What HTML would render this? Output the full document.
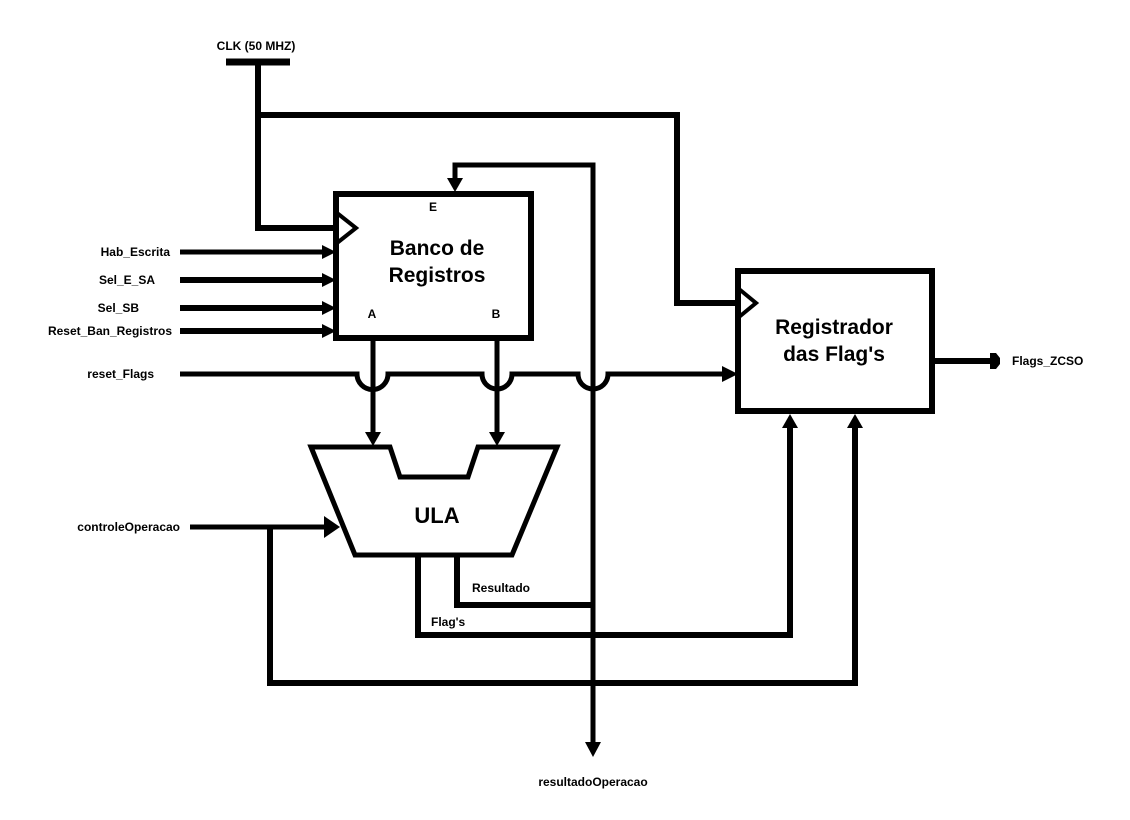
<!DOCTYPE html>
<html><head><meta charset="utf-8"><style>
html,body{margin:0;padding:0;background:#fff;}
svg{display:block;}
text{font-family:"Liberation Sans",Arial,sans-serif;font-weight:bold;fill:#000;}
</style></head><body>
<svg width="1130" height="820" viewBox="0 0 1130 820" xmlns="http://www.w3.org/2000/svg">
<g fill="none" stroke="#000" stroke-width="6" stroke-linejoin="miter">
<line x1="226" y1="62" x2="290" y2="62" stroke-width="7"/>
<polyline points="258,62 258,228 333,228"/>
<polyline points="258,115 677,115 677,303 735,303"/>
<rect x="336" y="194" width="195" height="144"/>
<polyline points="337,213 356,228 337,243" stroke-width="4"/>
<rect x="738" y="271" width="194" height="140"/>
<polyline points="739,289 756,303 739,317" stroke-width="4"/>
<line x1="180" y1="252" x2="322" y2="252" stroke-width="5"/>
<line x1="180" y1="280" x2="322" y2="280"/>
<line x1="180" y1="308" x2="322" y2="308"/>
<line x1="180" y1="331" x2="322" y2="331"/>
<path d="M180,374 H357 A15,15 0 0 0 388,374 H482 A15,15 0 0 0 512,374 H578 A15,15 0 0 0 608,374 H722" stroke-width="5"/>
<line x1="373" y1="338" x2="373" y2="434" stroke-width="5"/>
<line x1="497" y1="338" x2="497" y2="434" stroke-width="5"/>
<polyline points="455,180 455,165 593,165 593,742" stroke-width="5"/>
<polygon points="311,447 390,447 400,477 468,477 478,447 557,447 512,555 355,555" stroke-width="5"/>
<line x1="190" y1="527" x2="326" y2="527" stroke-width="5"/>
<polyline points="270,527 270,683 855,683 855,428"/>
<polyline points="418,555 418,635 790,635 790,428"/>
<polyline points="457,555 457,605 593,605"/>
<line x1="932" y1="361" x2="992" y2="361"/>
</g>
<g fill="#000">
<polygon points="322,245 336,252 322,259"/>
<polygon points="322,273 336,280 322,287"/>
<polygon points="322,301 336,308 322,315"/>
<polygon points="322,324 336,331 322,338"/>
<polygon points="722,366 738,374 722,382"/>
<polygon points="365,432 381,432 373,446"/>
<polygon points="489,432 505,432 497,446"/>
<polygon points="447,178 463,178 455,192"/>
<polygon points="324,516 340,527 324,538"/>
<polygon points="585,742 601,742 593,757"/>
<polygon points="782,428 798,428 790,414"/>
<polygon points="847,428 863,428 855,414"/>
<polygon points="990,353 996,353 1000,358 1000,364 996,369 990,369"/>
</g>
<text x="256" y="50" font-size="12" text-anchor="middle">CLK (50 MHZ)</text>
<text x="170" y="256" font-size="12" text-anchor="end">Hab_Escrita</text>
<text x="155" y="284" font-size="12" text-anchor="end">Sel_E_SA</text>
<text x="139" y="312" font-size="12" text-anchor="end">Sel_SB</text>
<text x="172" y="335" font-size="12" text-anchor="end">Reset_Ban_Registros</text>
<text x="154" y="378" font-size="12" text-anchor="end">reset_Flags</text>
<text x="180" y="531" font-size="12" text-anchor="end">controleOperacao</text>
<text x="433" y="211" font-size="12" text-anchor="middle">E</text>
<text x="372" y="318" font-size="12" text-anchor="middle">A</text>
<text x="496" y="318" font-size="12" text-anchor="middle">B</text>
<text x="437" y="255" font-size="21" text-anchor="middle">Banco de</text>
<text x="437" y="282" font-size="21" text-anchor="middle">Registros</text>
<text x="834" y="334" font-size="21" text-anchor="middle">Registrador</text>
<text x="834" y="361" font-size="21" text-anchor="middle">das Flag's</text>
<text x="437" y="523" font-size="22" text-anchor="middle">ULA</text>
<text x="472" y="592" font-size="12">Resultado</text>
<text x="431" y="626" font-size="12">Flag's</text>
<text x="1012" y="365" font-size="12">Flags_ZCSO</text>
<text x="593" y="786" font-size="12" text-anchor="middle">resultadoOperacao</text>
</svg>
</body></html>
